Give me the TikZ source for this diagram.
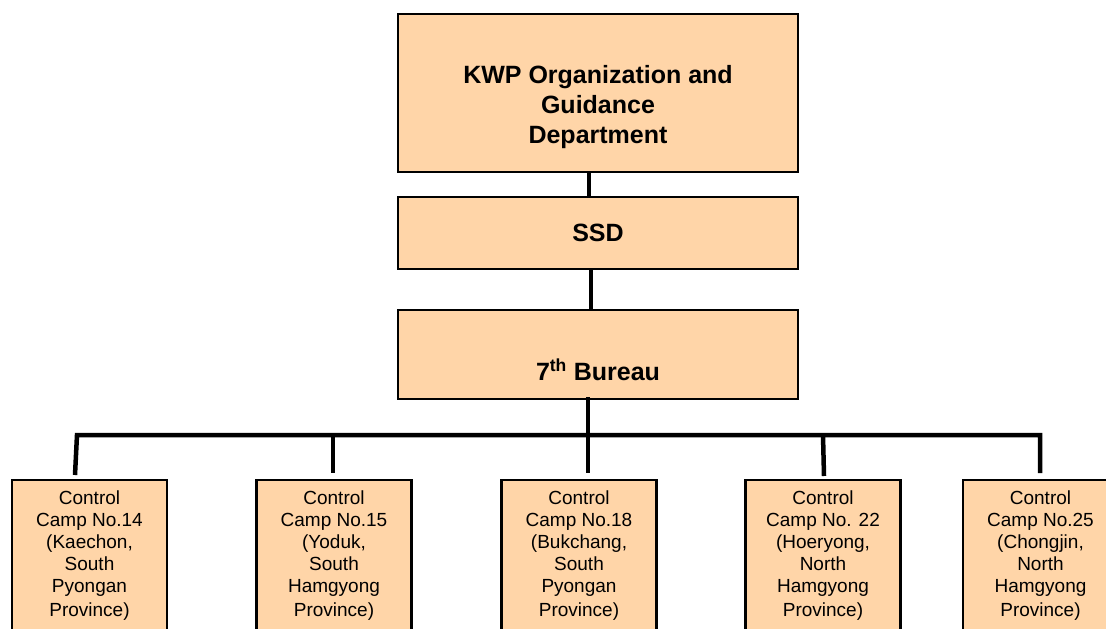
\documentclass[tikz,border=0pt]{standalone}
\usepackage{fontspec}
\setmainfont{Liberation Sans}
\usetikzlibrary{calc}
\definecolor{peach}{RGB}{255,213,168}
\tikzset{
  box/.style={draw=black, line width=2.4pt, fill=peach, rectangle, inner sep=0pt},
  topbox/.style={box, minimum width=400pt},
  camp/.style={box, minimum width=155pt, minimum height=200pt, anchor=north},
  boldtext/.style={align=center, inner sep=0pt, font=\bfseries\fontsize{25}{30}\selectfont},
  camptext/.style={anchor=north, align=center, inner sep=0pt, font=\fontsize{19}{22}\selectfont},
  conn/.style={line width=4.5pt},
}
\begin{document}
\begin{tikzpicture}[x=1pt, y=-1pt]
\clip (0,0) rectangle (1106,629);
\fill[white] (0,0) rectangle (1106,629);

% top boxes
\node[topbox, minimum height=158pt] (kwp) at (598,93) {};
\node[boldtext] (kwpt) at (598,107) {KWP Organization and\\Guidance\\Department};
\node[topbox, minimum height=72pt, boldtext, draw=black, fill=peach, line width=2.4pt, minimum width=400pt] (ssd) at (598,233) {SSD};
\node[topbox, minimum height=89pt] (bur) at (598,354.5) {};
\node[boldtext] (burt) at (598,370) {7\textsuperscript{th} Bureau};

% camps
\node[camp] (c14) at (89.5,479) {};
\node[camp] (c15) at (334,479) {};
\node[camp] (c18) at (579,479) {};
\node[camp] (c22) at (823,479) {};
\node[camp] (c25) at (1040.5,479) {};

\node[camptext] (t14) at ($(c14.north)+(0,12)$) {Control\\Camp No.14\\(Kaechon,\\South\\Pyongan\\[2pt]Province)};
\node[camptext] (t15) at ($(c15.north)+(0,12)$) {Control\\Camp No.15\\(Yoduk,\\South\\Hamgyong\\[2pt]Province)};
\node[camptext] (t18) at ($(c18.north)+(0,12)$) {Control\\Camp No.18\\(Bukchang,\\South\\Pyongan\\[2pt]Province)};
\node[camptext] (t22) at ($(c22.north)+(0,12)$) {Control\\Camp No. 22\\(Hoeryong,\\North\\Hamgyong\\[2pt]Province)};
\node[camptext] (t25) at ($(c25.north)+(0,12)$) {Control\\Camp No.25\\(Chongjin,\\North\\Hamgyong\\[2pt]Province)};

% connectors
\coordinate (xa) at (589,0);
\coordinate (xb) at (591,0);
\coordinate (xc) at (588,0);
\coordinate (busl) at (77,435);
\coordinate (busr) at (1040,435);
\coordinate (e14) at (75,475);
\coordinate (e15t) at (333,435);
\coordinate (e15) at (333,473);
\coordinate (e22t) at (823,435);
\coordinate (e22) at (824,476);
\coordinate (e25) at (1040,473);
\coordinate (e18) at (588,473);

\draw[conn] (kwp.south -| xa) -- (ssd.north -| xa);
\draw[conn] (ssd.south -| xb) -- (bur.north -| xb);
\draw[conn] ($(bur.south -| xc)+(0,-3)$) -- (e18);
\draw[conn, line join=miter] (e14) -- (busl) -- (busr) -- (e25);
\draw[conn] (e15t) -- (e15);
\draw[conn] (e22t) -- (e22);
\end{tikzpicture}
\end{document}
